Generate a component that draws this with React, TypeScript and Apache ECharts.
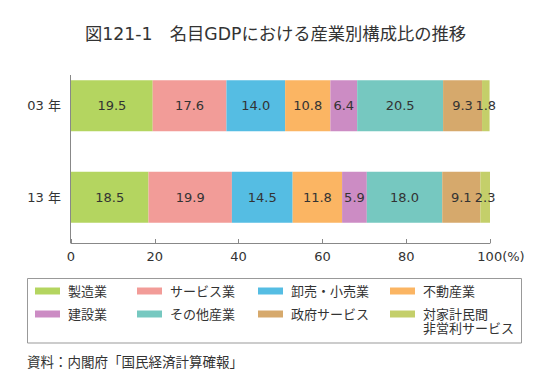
import React, { useEffect, useRef } from 'react';
import * as echarts from 'echarts';

const titleText = '図121-1　名目GDPにおける産業別構成比の推移';
const sourceText = '資料：内閣府「国民経済計算確報」';
const years = ['03 年', '13 年'];
const industries = [
  '製造業',
  'サービス業',
  '卸売・小売業',
  '不動産業',
  '建設業',
  'その他産業',
  '政府サービス',
  '対家計民間非営利サービス',
];
const values03 = [19.5, 17.6, 14.0, 10.8, 6.4, 20.5, 9.3, 1.8];
const values13 = [18.5, 19.9, 14.5, 11.8, 5.9, 18.0, 9.1, 2.3];
const colors = ['#b4d560', '#f29c98', '#55bde3', '#fbb563', '#cc8cc4', '#76c8c0', '#d6a96c', '#c4cf6a'];
const legendColumns = [
  [0, 4],
  [1, 5],
  [2, 6],
  [3, 7],
];
const legendColumnLeft = [35, 137, 258, 390];
const MULTI = '対家計民間非営利サービス';

const FONT = '"DejaVu Sans", "Noto Sans CJK JP", sans-serif';
const TEXT = '#333';

export default function App() {
  const ref = useRef<HTMLDivElement>(null);
  useEffect(() => {
    document.body.style.margin = '0';
    if (!ref.current) return;
    const chart = echarts.init(ref.current, undefined, { renderer: 'svg' });

    const series = industries.map((name, i) => ({
      name,
      type: 'bar',
      stack: 'total',
      barWidth: 51,
      itemStyle: { color: colors[i] },
      label: {
        show: true,
        position: 'inside',
        color: TEXT,
        fontFamily: FONT,
        fontSize: 13,
        formatter: (p: any) => Number(p.value).toFixed(1),
      },
      emphasis: { disabled: true },
      data: [values03[i], values13[i]],
    }));

    const legends = legendColumns.map((col, ci) => {
      const hasMulti = col.some((idx) => industries[idx] === MULTI);
      return {
        orient: 'vertical',
        left: legendColumnLeft[ci],
        top: 284,
        padding: 0,
        itemGap: hasMulti ? -5 : 9,
        itemWidth: 25,
        itemHeight: 7,
        icon: 'rect',
        selectedMode: false,
        textStyle: {
          fontFamily: FONT,
          fontSize: 13,
          lineHeight: 14,
          color: TEXT,
          padding: [0, 0, 0, 3],
        },
        formatter: (name: string) => (name === MULTI ? '\n対家計民間\n非営利サービス' : name),
        data: col.map((idx) => ({ name: industries[idx] })),
      };
    });

    chart.setOption({
      animation: false,
      title: {
        text: titleText,
        left: 'center',
        top: 25,
        padding: 0,
        textStyle: { fontFamily: FONT, fontSize: 17.3, fontWeight: 'normal', color: TEXT },
      },
      grid: { left: 71, right: 61, top: 60, bottom: 134, containLabel: false },
      xAxis: {
        type: 'value',
        min: 0,
        max: 100,
        interval: 20,
        axisLine: { show: true, lineStyle: { color: '#888', width: 1 } },
        axisTick: { show: true, inside: true, length: 4, lineStyle: { color: '#888' } },
        splitLine: { show: false },
        axisLabel: {
          margin: 7,
          color: TEXT,
          fontFamily: FONT,
          fontSize: 13,
          formatter: (v: number) => (v === 100 ? '{pad|}100(%)' : String(v)),
          rich: { pad: { width: 22 } },
        },
      },
      yAxis: {
        type: 'category',
        data: years,
        inverse: true,
        axisLine: { show: false },
        axisTick: { show: false },
        axisLabel: { margin: 10, color: TEXT, fontFamily: FONT, fontSize: 13 },
      },
      legend: legends,
      graphic: [
        {
          type: 'line',
          shape: { x1: 70.5, y1: 75, x2: 70.5, y2: 243 },
          style: { stroke: '#888', lineWidth: 1 },
          silent: true,
        },
        {
          type: 'rect',
          shape: { x: 27.5, y: 278.5, width: 494, height: 64.5 },
          style: { fill: 'none', stroke: '#999', lineWidth: 1 },
          silent: true,
        },
        {
          type: 'text',
          x: 27,
          y: 362,
          style: {
            text: sourceText,
            fill: TEXT,
            fontFamily: FONT,
            fontSize: 13.5,
            verticalAlign: 'middle',
          },
          silent: true,
        },
      ],
      series,
    });

    return () => chart.dispose();
  }, []);
  return <div ref={ref} style={{ width: 551, height: 377 }} />;
}
